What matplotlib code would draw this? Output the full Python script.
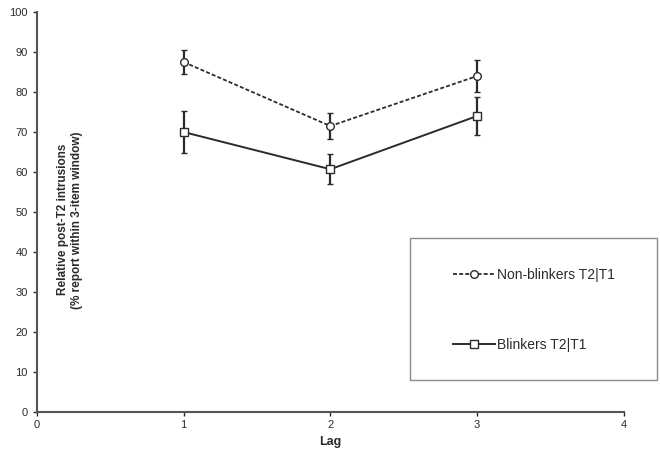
import matplotlib

matplotlib.use("Agg")
from matplotlib import pyplot as plt
from matplotlib.lines import Line2D
from matplotlib.patches import Rectangle

plt.rcParams["font.family"] = ["Liberation Sans", "DejaVu Sans"]

lags = [1, 2, 3]
nonblinkers = [87.5, 71.5, 84.0]
nonblinkers_err = [3.0, 3.2, 4.0]
blinkers = [70.0, 60.7, 74.0]
blinkers_err = [5.2, 3.7, 4.7]

x_ticks = [0, 1, 2, 3, 4]
y_ticks = [0, 10, 20, 30, 40, 50, 60, 70, 80, 90, 100]

ink = "#2b2b2b"
dashes = (0, (2.2, 1.2))

fig = plt.figure(figsize=(6.6, 4.55), dpi=100)
ax = fig.add_axes([0.056, 0.0945, 0.889, 0.879])

ax.errorbar(
    lags, nonblinkers, yerr=nonblinkers_err,
    color=ink, linestyle=dashes, linewidth=1.3,
    marker="o", markersize=5.5, markerfacecolor="white", markeredgecolor=ink,
    markeredgewidth=1.0, ecolor=ink, elinewidth=1.6, capsize=2.4, capthick=1.6,
)
ax.errorbar(
    lags, blinkers, yerr=blinkers_err,
    color=ink, linestyle="-", linewidth=1.4,
    marker="s", markersize=5.5, markerfacecolor="white", markeredgecolor=ink,
    markeredgewidth=1.0, ecolor=ink, elinewidth=1.6, capsize=2.4, capthick=1.6,
)

ax.set_xlim(0, 4)
ax.set_ylim(0, 100)
ax.set_xticks(x_ticks)
ax.set_yticks(y_ticks)
ax.tick_params(direction="out", length=3, width=1.0, colors=ink, labelsize=8)
ax.tick_params(axis="x", pad=3)
for side in ("top", "right"):
    ax.spines[side].set_visible(False)
for side in ("left", "bottom"):
    ax.spines[side].set_color("#555555")
    ax.spines[side].set_linewidth(1.5)

ax.set_xlabel("Lag", fontsize=9, fontweight="bold", color=ink, labelpad=4)
fig.text(0.106, 0.517, "Relative post-T2 intrusions\n(% report within 3-item window)",
         rotation=90, ha="center", va="center", fontsize=8.5,
         fontweight="bold", color=ink, linespacing=1.15)

# legend box sits partly outside the axes on the right
fig.patches.append(Rectangle((0.621, 0.165), 0.374, 0.312, transform=fig.transFigure,
                             facecolor="none", edgecolor="#8a8a8a", linewidth=1.0))
handles = [
    Line2D([], [], color=ink, linestyle=dashes, linewidth=1.3, marker="o",
           markersize=5.5, markerfacecolor="white", markeredgecolor=ink),
    Line2D([], [], color=ink, linestyle="-", linewidth=1.4, marker="s",
           markersize=5.5, markerfacecolor="white", markeredgecolor=ink),
]
fig.legend(handles, ["Non-blinkers T2|T1", "Blinkers T2|T1"],
           loc="center left", bbox_to_anchor=(0.668, 0.319), frameon=False,
           fontsize=10, handlelength=3.0, handletextpad=0.15, labelspacing=4.0,
           labelcolor=ink)

fig.savefig("out.png", dpi=100)
